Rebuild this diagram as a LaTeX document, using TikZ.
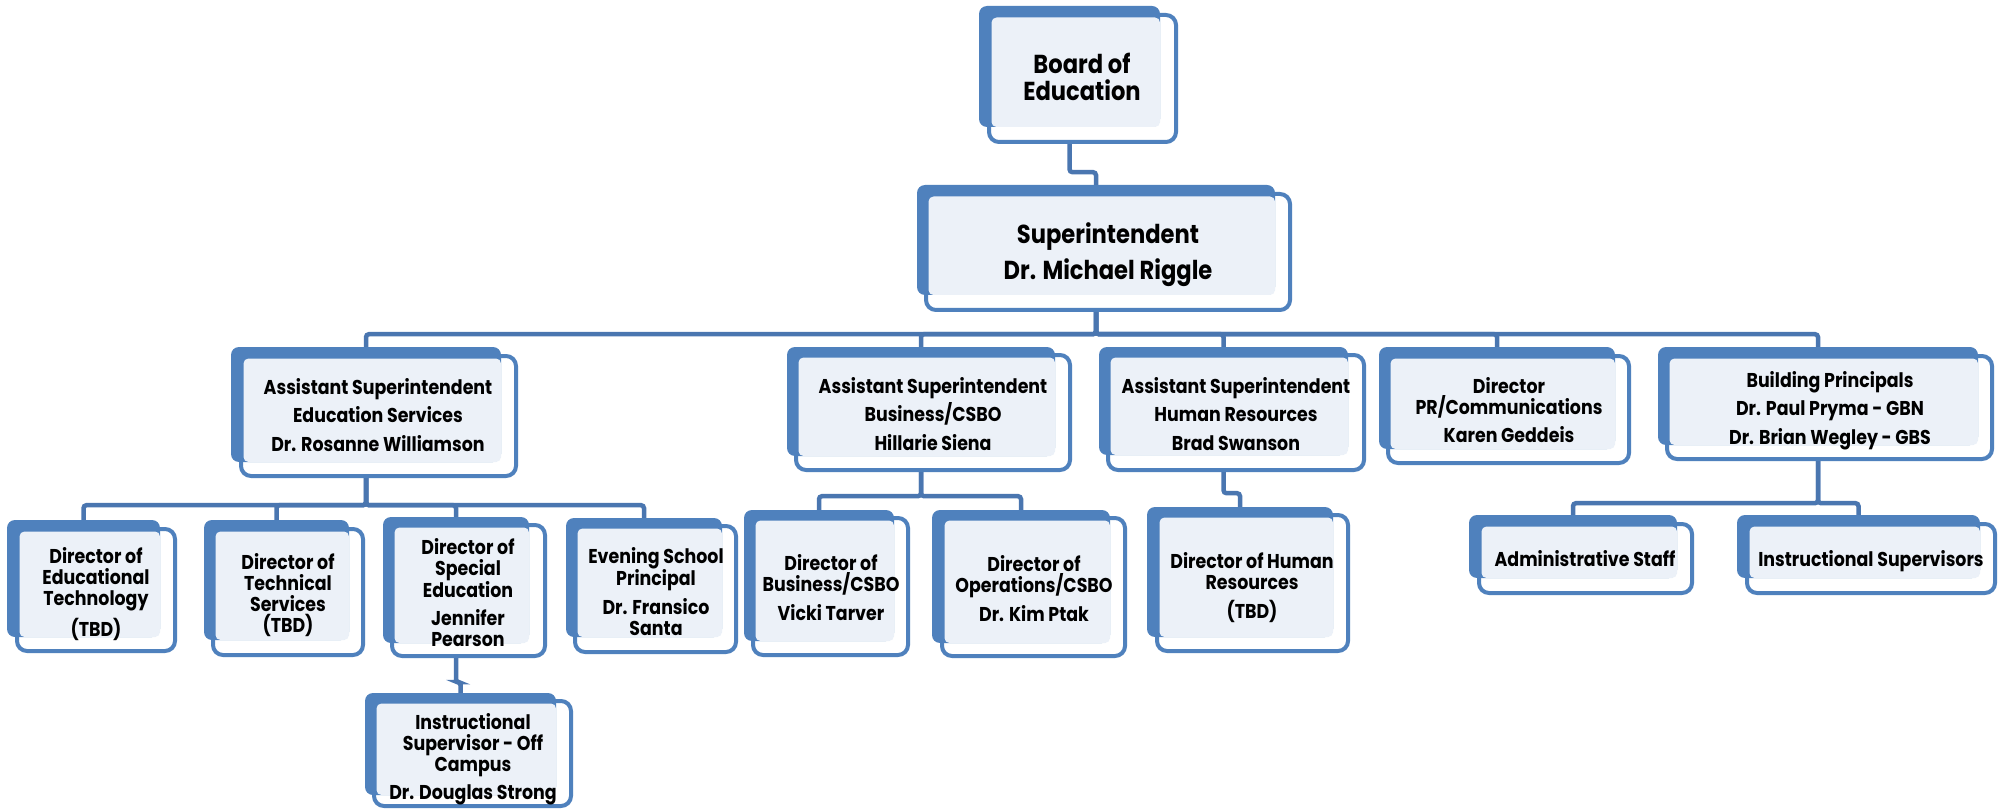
\documentclass[tikz,border=0pt]{standalone}
\usepackage{fontspec}
\setmainfont{Poppins}[FakeStretch=0.87]
\usetikzlibrary{fit,backgrounds}
\pgfdeclarelayer{conn}
\pgfdeclarelayer{outl}
\pgfdeclarelayer{lite}
\pgfdeclarelayer{txt}
\pgfsetlayers{conn,outl,main,lite,txt}
\definecolor{boxblue}{HTML}{4F81BD}
\definecolor{connblue}{HTML}{4A76B0}
\definecolor{litefill}{HTML}{ECF1F8}
\tikzset{
  bluebox/.style={rectangle, fill=boxblue, rounded corners=8pt, inner sep=0pt},
  outlbox/.style={rectangle, draw=boxblue, line width=4pt, fill=white, rounded corners=10pt, inner sep=0pt},
  litebox/.style={rectangle, fill=litefill, rounded corners=5pt, inner sep=0pt},
  conn/.style={draw=connblue, line width=4.5pt, rounded corners=3pt},
  lbl/.style={anchor=north, align=center, inner sep=0pt, text=black},
  small/.style={font=\bfseries\fontsize{20}{21}\selectfont},
  mid/.style={font=\bfseries\fontsize{20}{28.5}\selectfont},
  big/.style={font=\bfseries\fontsize{26}{27}\selectfont},
  huge/.style={font=\bfseries\fontsize{26}{36}\selectfont}
}
% name, blue x1,y1,x2,y2, outline x1,y1,x2,y2
\newcommand\orgbox[9]{%
  \node[bluebox, fit={(#2,#3) (#4,#5)}] (#1) {};
  \begin{pgfonlayer}{outl}\node[outlbox, fit={({#6+2},{#7+2}) ({#8-2},{#9-2})}] (#1-o) {};\end{pgfonlayer}
  \begin{pgfonlayer}{lite}\node[litebox, fit={({#6+4.5},{#7+4.5}) (#4,#5)}] (#1-l) {};\end{pgfonlayer}
}
\newcommand\sr{\rule{0pt}{15pt}}
\newcommand\br{\rule{0pt}{20pt}}
\begin{document}
\begin{tikzpicture}[x=1pt,y=-1pt]
\begin{pgfonlayer}{conn}
\fill[white] (0,0) rectangle (2005,810);
\end{pgfonlayer}
\useasboundingbox (0,0) rectangle (2005,810);
% boxes
\orgbox{board}{979}{6}{1160}{127}{987}{13}{1178}{144}
\orgbox{supt}{917}{185}{1275}{295}{924}{192}{1292}{312}
\orgbox{edu}{231}{347}{501}{462}{239}{354}{518}{478}
\orgbox{bus}{787}{347}{1055}{456}{794}{353}{1072}{472}
\orgbox{hr}{1099}{347}{1348}{455}{1106}{353}{1366}{472}
\orgbox{pr}{1379}{347}{1615}{449}{1386}{354}{1631}{465}
\orgbox{bp}{1658}{347}{1978}{445}{1665}{354}{1994}{461}
\orgbox{edtech}{7}{520}{160}{637}{15}{527}{177}{653}
\orgbox{techs}{204}{520}{349}{640}{211}{527}{365}{657}
\orgbox{sped}{383}{517}{529}{643}{390}{523}{547}{658}
\orgbox{eve}{566}{518}{722}{637}{573}{524}{738}{654}
\orgbox{offc}{365}{693}{556}{795}{372}{699}{573}{808}
\orgbox{dbus}{744}{510}{894}{641}{751}{516}{910}{657}
\orgbox{dops}{932}{510}{1110}{643}{940}{516}{1127}{658}
\orgbox{dhr}{1147}{507}{1333}{637}{1155}{513}{1350}{653}
\orgbox{admin}{1469}{515}{1677}{578}{1477}{522}{1694}{595}
\orgbox{instr}{1737}{515}{1980}{578}{1745}{522}{1997}{595}
% connectors
\begin{pgfonlayer}{conn}
\draw[conn] (board.south) -- ++(0,45) -| (supt.north);
\foreach \c in {edu,bus,hr,pr,bp} \draw[conn] (supt.south) -- ++(0,39) -| (\c.north);
\foreach \c in {edtech,techs,sped,eve} \draw[conn] (edu.south) -- ++(0,43) -| (\c.north);
\draw[conn] (sped.south) -- ++(0,39) -| (offc.north);
\foreach \c in {dbus,dops} \draw[conn] (bus.south) -- ++(0,40) -| (\c.north);
\draw[conn] (hr.south) -- ++(0,38) -| (dhr.north);
\foreach \c in {admin,instr} \draw[conn] (bp.south) -- ++(0,58) -| (\c.north);
\end{pgfonlayer}
% texts
\begin{pgfonlayer}{txt}
\node[lbl,big] (board-t) at (1082,53) {\br Board of\\Education};
\node[lbl,huge] (supt-t) at (1108,222) {\br Superintendent\\Dr. Michael Riggle};
\node[lbl,mid] (edu-t) at (378,378) {\sr Assistant Superintendent\\Education Services\\Dr. Rosanne Williamson};
\node[lbl,mid] (bus-t) at (933,377) {\sr Assistant Superintendent\\Business/CSBO\\Hillarie Siena};
\node[lbl,mid] (hr-t) at (1236,377) {\sr Assistant Superintendent\\Human Resources\\Brad Swanson};
\node[lbl,small] (pr-t) at (1509,377) {\sr Director\\PR/Communications\\[7pt]Karen Geddeis};
\node[lbl,mid] (bp-t) at (1830,371) {\sr Building Principals\\Dr. Paul Pryma - GBN\\Dr. Brian Wegley - GBS};
\node[lbl,small] (edtech-t) at (96,547) {\sr Director of\\Educational\\Technology\\[7pt](TBD)};
\node[lbl,small] (techs-t) at (288,553) {\sr Director of\\Technical\\Services\\(TBD)};
\node[lbl,small] (sped-t) at (468,538) {\sr Director of\\Special\\Education\\[7pt]Jennifer\\Pearson};
\node[lbl,small] (eve-t) at (656,547) {\sr Evening School\\Principal\\[6pt]Dr. Fransico\\Santa};
\node[lbl,small] (offc-t) at (473,713) {\sr Instructional\\Supervisor - Off\\Campus\\[7pt]Dr. Douglas Strong};
\node[lbl,small] (dbus-t) at (831,554) {\sr Director of\\Business/CSBO\\[8pt]Vicki Tarver};
\node[lbl,small] (dops-t) at (1034,555) {\sr Director of\\Operations/CSBO\\[7pt]Dr. Kim Ptak};
\node[lbl,small] (dhr-t) at (1252,552) {\sr Director of Human\\Resources\\[8pt](TBD)};
\node[lbl,small] (admin-t) at (1585,550) {\sr Administrative Staff};
\node[lbl,small] (instr-t) at (1871,550) {\sr Instructional Supervisors};
\end{pgfonlayer}
\end{tikzpicture}
\end{document}
